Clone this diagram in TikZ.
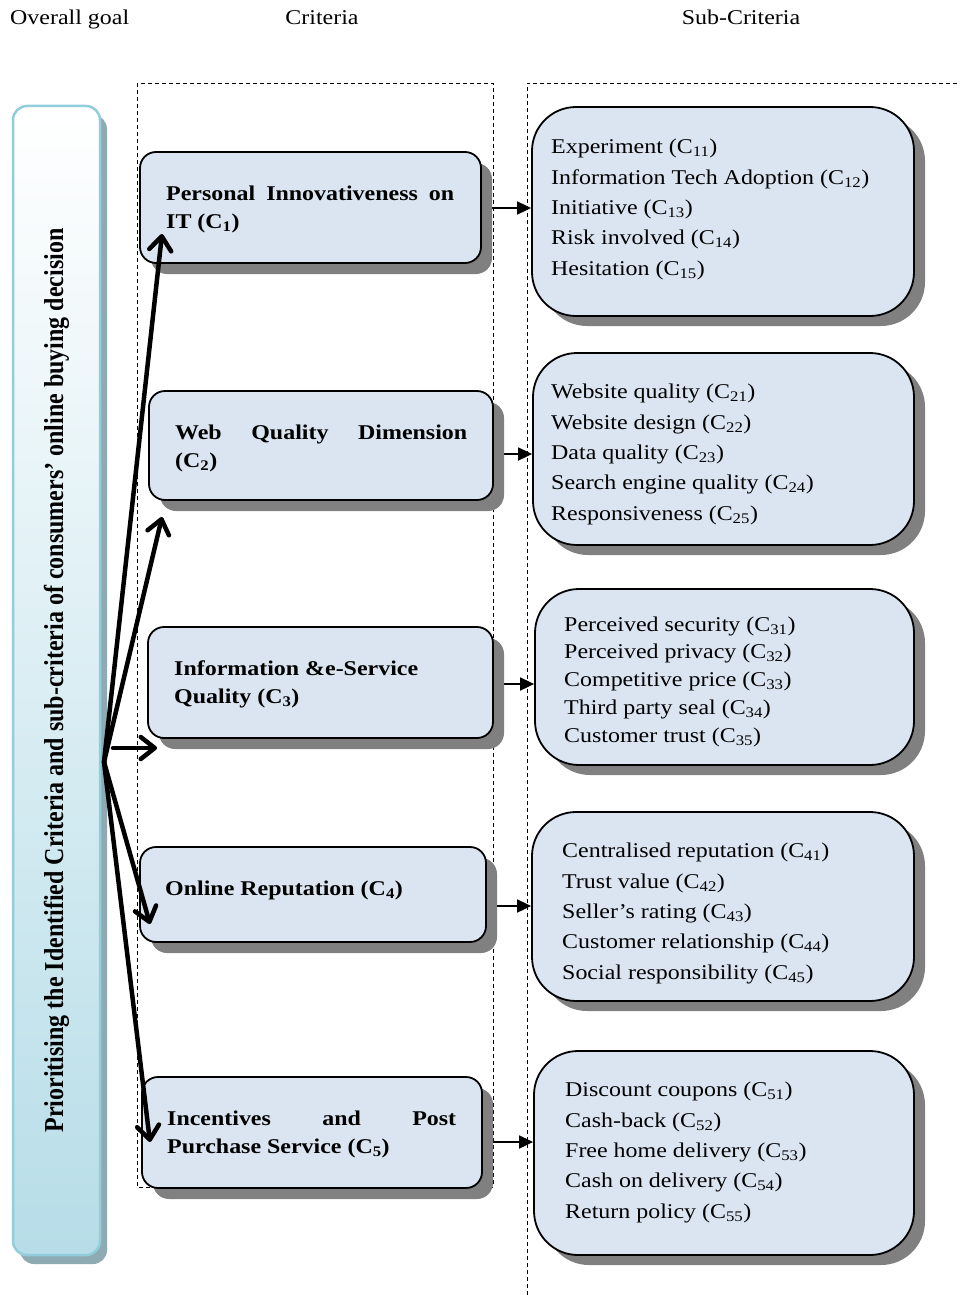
\documentclass[tikz,border=0pt]{standalone}
\usepackage{graphicx}
\usepackage{fontspec}
\setmainfont{Liberation Serif}[FakeStretch=1.14]
\newfontfamily\vertfont{Liberation Serif}
\usetikzlibrary{arrows.meta,shadows}
\pgfdeclarelayer{bg}
\pgfsetlayers{bg,main}
\definecolor{critfill}{HTML}{DBE5F1}
\definecolor{shadowgray}{HTML}{808080}
\definecolor{goalborder}{HTML}{92CDDC}
\definecolor{goalbottom}{HTML}{B7DDE8}
\definecolor{goalshadow}{HTML}{8EAAB3}
\begin{document}
\begin{tikzpicture}[x=1pt,y=-1pt,
  critbox/.style={draw=black, line width=1.8pt, fill=critfill, rounded corners=16pt, inner sep=0pt,
    general shadow={fill=shadowgray, shadow xshift=11pt, shadow yshift=-11pt}},
  subbox/.style={draw=black, line width=1.8pt, fill=critfill, rounded corners=44pt, inner sep=0pt,
    general shadow={fill=shadowgray, shadow xshift=11pt, shadow yshift=-10pt}},
  goalbox/.style={draw=goalborder, line width=2.5pt, top color=white, bottom color=goalbottom,
    rounded corners=14pt, inner sep=0pt,
    general shadow={fill=goalshadow, shadow xshift=7pt, shadow yshift=-9pt}},
  hdr/.style={font=\fontsize{21}{25}\selectfont, inner sep=0pt, anchor=base},
  crittext/.style={font=\bfseries\fontsize{21}{28}\selectfont, align=left, inner sep=0pt, anchor=base west},
  subtext/.style={font=\fontsize{21}{30.3}\selectfont, align=left, inner sep=0pt, anchor=base west},
  dashframe/.style={line width=0.9pt, dash pattern=on 4pt off 3pt},
  thinarrow/.style={line width=1.8pt, -{Triangle[length=14pt,width=13pt]}},
  thickarrow/.style={line width=4.5pt, line cap=round, -{Straight Barb[length=14pt,width=22pt,round]}}
]
\useasboundingbox (0,0) rectangle (960,1295);

% headers
\node[hdr, anchor=base west] (h1) at (10,25) {Overall goal};
\node[hdr] (h2) at (322,25) {Criteria};
\node[hdr] (h3) at (741,25) {Sub-Criteria};

% dashed frames
\draw[dashframe] (137,83) rectangle (493,1187);
\draw[dashframe] (527,1295) -- (527,83) -- (960,83);

% goal box
\node[goalbox, minimum width=87pt, minimum height=1149pt] (g) at (56.5,680.5) {};
\node[rotate=90, inner sep=0pt] (gt) at (g.center)
  {\scalebox{1}[1.14]{\vertfont\bfseries\fontsize{24}{28}\selectfont Prioritising the Identified Criteria and sub-criteria of consumers’ online buying decision}};

% criteria boxes
\node[critbox, minimum width=341pt, minimum height=111pt] (c1) at (310.5,207.5) {};
\node[critbox, minimum width=344pt, minimum height=109pt] (c2) at (321,445.5) {};
\node[critbox, minimum width=345pt, minimum height=111pt] (c3) at (320.5,682.5) {};
\node[critbox, minimum width=346pt, minimum height=95pt] (c4) at (313,894.5) {};
\node[critbox, minimum width=340pt, minimum height=111pt] (c5) at (312,1132.5) {};

% (base anchor = baseline of the last line)
\node[crittext] (c1t) at (166,228) {\makebox[288pt][s]{Personal Innovativeness on}\\IT (C\textsubscript{1})};
\node[crittext] (c2t) at (175,467) {\makebox[292pt][s]{Web Quality Dimension}\\(C\textsubscript{2})};
\node[crittext] (c3t) at (174,703) {Information \&e-Service\\Quality (C\textsubscript{3})};
\node[crittext] (c4t) at (165,895) {Online Reputation (C\textsubscript{4})};
\node[crittext] (c5t) at (167,1153) {\makebox[289pt][s]{Incentives and Post}\\Purchase Service (C\textsubscript{5})};

% sub-criteria boxes
\node[subbox, minimum width=382pt, minimum height=209pt] (s1) at (723,211.5) {};
\node[subbox, minimum width=381pt, minimum height=192pt] (s2) at (723.5,449) {};
\node[subbox, minimum width=379pt, minimum height=176pt] (s3) at (724.5,677) {};
\node[subbox, minimum width=382pt, minimum height=189pt] (s4) at (723,906.5) {};
\node[subbox, minimum width=380pt, minimum height=204pt] (s5) at (724,1153) {};

\node[subtext] (s1t) at (551,275) {Experiment (C\textsubscript{11})\\Information Tech Adoption (C\textsubscript{12})\\Initiative (C\textsubscript{13})\\Risk involved (C\textsubscript{14})\\Hesitation (C\textsubscript{15})};
\node[subtext] (s2t) at (551,520) {Website quality (C\textsubscript{21})\\Website design (C\textsubscript{22})\\Data quality (C\textsubscript{23})\\Search engine quality (C\textsubscript{24})\\Responsiveness (C\textsubscript{25})};
\node[subtext, font=\fontsize{21}{27.75}\selectfont] (s3t) at (564,742) {Perceived security (C\textsubscript{31})\\Perceived privacy (C\textsubscript{32})\\Competitive price (C\textsubscript{33})\\Third party seal (C\textsubscript{34})\\Customer trust (C\textsubscript{35})};
\node[subtext] (s4t) at (562,979) {Centralised reputation (C\textsubscript{41})\\Trust value (C\textsubscript{42})\\Seller’s rating (C\textsubscript{43})\\Customer relationship (C\textsubscript{44})\\Social responsibility (C\textsubscript{45})};
\node[subtext] (s5t) at (565,1218) {Discount coupons (C\textsubscript{51})\\Cash-back (C\textsubscript{52})\\Free home delivery (C\textsubscript{53})\\Cash on delivery (C\textsubscript{54})\\Return policy (C\textsubscript{55})};

% thin arrows criteria -> sub-criteria (behind boxes)
\coordinate (y1) at (0,208);
\coordinate (y2) at (0,454);
\coordinate (y3) at (0,684);
\coordinate (y4) at (0,906);
\coordinate (y5) at (0,1142);
\begin{pgfonlayer}{bg}
\draw[thinarrow] (c1.east |- y1) -- (s1.west |- y1);
\draw[thinarrow] (c2.east |- y2) -- (s2.west |- y2);
\draw[thinarrow] (c3.east |- y3) -- (s3.west |- y3);
\draw[thinarrow] (c4.east |- y4) -- (s4.west |- y4);
\draw[thinarrow] (c5.east |- y5) -- (s5.west |- y5);
\end{pgfonlayer}

% thick arrows goal -> criteria
\coordinate (o) at (104,762);
\coordinate (a1) at (162,234);
\coordinate (a2) at (162,517);
\coordinate (h0) at (113,748);
\coordinate (a3) at (157,748);
\coordinate (a4) at (150,924);
\coordinate (a5) at (150,1142);
\draw[thickarrow] (o) -- (a1);
\draw[thickarrow] (o) -- (a2);
\draw[thickarrow] (h0) -- (a3);
\draw[thickarrow] (o) -- (a4);
\draw[thickarrow] (o) -- (a5);
\end{tikzpicture}
\end{document}
